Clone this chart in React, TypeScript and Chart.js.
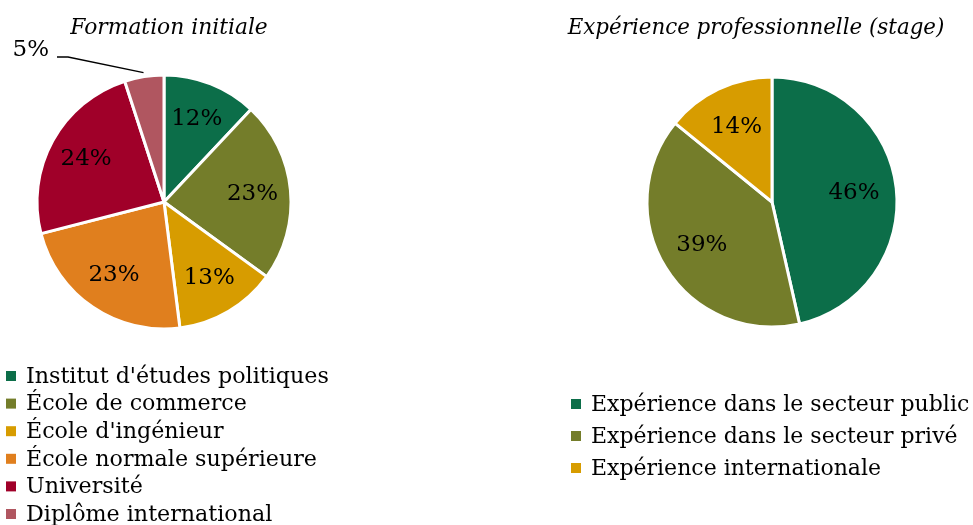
import React, { useEffect, useRef } from "react";
import { Chart, registerables } from "chart.js";

Chart.register(...registerables);

const formationTitle = "Formation initiale";
const formationLabels = [
  "Institut d'études politiques",
  "École de commerce",
  "École d'ingénieur",
  "École normale supérieure",
  "Université",
  "Diplôme international",
];
const formationValues = [12, 23, 13, 23, 24, 5];
const formationColors = ["#0C6E49", "#747D2A", "#D79C00", "#E07F1E", "#A00029", "#B05660"];

const stageTitle = "Expérience professionnelle (stage)";
const stageLabels = [
  "Expérience dans le secteur public",
  "Expérience dans le secteur privé",
  "Expérience internationale",
];
const stageValues = [46, 39, 14];
const stageColors = ["#0C6E49", "#747D2A", "#D79C00"];

const FONT = "'DejaVu Serif', serif";

type Cfg = {
  title: string;
  titleX: number;
  titleY: number;
  titleSize: number;
  legendX: number;
  legendY: number;
  legendStep: number;
  legendSize: number;
  legendBox: number;
  labelSize: number;
  labelR: number;
  outside: number[];
  outsideAnchor: [number, number];
};

const piePlugin = {
  id: "piedecor",
  afterDraw(chart: any) {
    const cfg: Cfg = chart.options.plugins.piedecor;
    const ctx = chart.ctx;
    const ds = chart.data.datasets[0];
    const meta = chart.getDatasetMeta(0);
    ctx.save();
    // title
    ctx.fillStyle = "#000";
    ctx.font = `italic ${cfg.titleSize}px ${FONT}`;
    ctx.textAlign = "center";
    ctx.textBaseline = "middle";
    ctx.fillText(cfg.title, cfg.titleX, cfg.titleY);
    // value labels
    ctx.font = `${cfg.labelSize}px ${FONT}`;
    meta.data.forEach((arc: any, i: number) => {
      const p = arc.getProps(["x", "y", "startAngle", "endAngle", "outerRadius"], true);
      const mid = (p.startAngle + p.endAngle) / 2;
      const txt = ds.data[i] + "%";
      if (cfg.outside.includes(i)) {
        const ex = p.x + Math.cos(mid) * (p.outerRadius + 4);
        const ey = p.y + Math.sin(mid) * (p.outerRadius + 4);
        const ax = p.x + cfg.outsideAnchor[0];
        const ay = p.y + cfg.outsideAnchor[1];
        ctx.strokeStyle = "#000";
        ctx.lineWidth = 1.5;
        ctx.beginPath();
        ctx.moveTo(ex, ey);
        ctx.lineTo(ax, ay);
        ctx.lineTo(ax - 11, ay);
        ctx.stroke();
        ctx.textAlign = "right";
        ctx.fillText(txt, ax - 19, ay - 7);
      } else {
        ctx.textAlign = "center";
        ctx.fillText(
          txt,
          p.x + Math.cos(mid) * p.outerRadius * cfg.labelR,
          p.y + Math.sin(mid) * p.outerRadius * cfg.labelR
        );
      }
    });
    // legend
    ctx.font = `${cfg.legendSize}px ${FONT}`;
    ctx.textAlign = "left";
    chart.data.labels.forEach((lab: string, i: number) => {
      const y = cfg.legendY + i * cfg.legendStep;
      ctx.fillStyle = ds.backgroundColor[i];
      ctx.fillRect(cfg.legendX, y - cfg.legendBox / 2, cfg.legendBox, cfg.legendBox);
      ctx.fillStyle = "#000";
      ctx.fillText(lab, cfg.legendX + cfg.legendBox + 10, y + 1);
    });
    ctx.restore();
  },
};

function PieCanvas(props: {
  labels: string[];
  values: number[];
  colors: string[];
  radius: number;
  padding: { left: number; top: number; right: number; bottom: number };
  cfg: Cfg;
  left: number;
  width: number;
}) {
  const ref = useRef<HTMLCanvasElement>(null);
  useEffect(() => {
    const chart = new Chart(ref.current as HTMLCanvasElement, {
      type: "pie",
      data: {
        labels: props.labels,
        datasets: [
          {
            data: props.values,
            backgroundColor: props.colors,
            borderColor: "#ffffff",
            borderWidth: 3,
          },
        ],
      },
      options: {
        animation: false,
        responsive: false,
        radius: props.radius,
        layout: { padding: props.padding },
        events: [],
        plugins: {
          legend: { display: false },
          title: { display: false },
          tooltip: { enabled: false },
          piedecor: props.cfg,
        } as any,
      } as any,
      plugins: [piePlugin],
    });
    return () => chart.destroy();
  }, []);
  return (
    <canvas
      ref={ref}
      width={props.width}
      height={525}
      style={{ position: "absolute", left: props.left, top: 0, width: props.width, height: 525 }}
    />
  );
}

export default function App() {
  return (
    <div style={{ position: "absolute", left: 0, top: 0, width: 973, height: 525, background: "#fff" }}>
      <PieCanvas
        labels={formationLabels}
        values={formationValues}
        colors={formationColors}
        radius={127}
        padding={{ left: 37, top: 75, right: 486 - 291, bottom: 525 - 329 }}
        left={0}
        width={486}
        cfg={{
          title: formationTitle,
          titleX: 169,
          titleY: 28,
          titleSize: 21.8,
          legendX: 6,
          legendY: 376,
          legendStep: 27.6,
          legendSize: 22.2,
          legendBox: 10,
          labelSize: 23,
          labelR: 0.7,
          outside: [5],
          outsideAnchor: [-96, -145],
        }}
      />
      <PieCanvas
        labels={stageLabels}
        values={stageValues}
        colors={stageColors}
        radius={125}
        padding={{ left: 286 - 127, top: 75, right: 487 - 413, bottom: 525 - 329 }}
        left={486}
        width={487}
        cfg={{
          title: stageTitle,
          titleX: 270,
          titleY: 28,
          titleSize: 21.4,
          legendX: 85,
          legendY: 404,
          legendStep: 32,
          legendSize: 22,
          legendBox: 10,
          labelSize: 23,
          labelR: 0.66,
          outside: [],
          outsideAnchor: [0, 0],
        }}
      />
    </div>
  );
}
